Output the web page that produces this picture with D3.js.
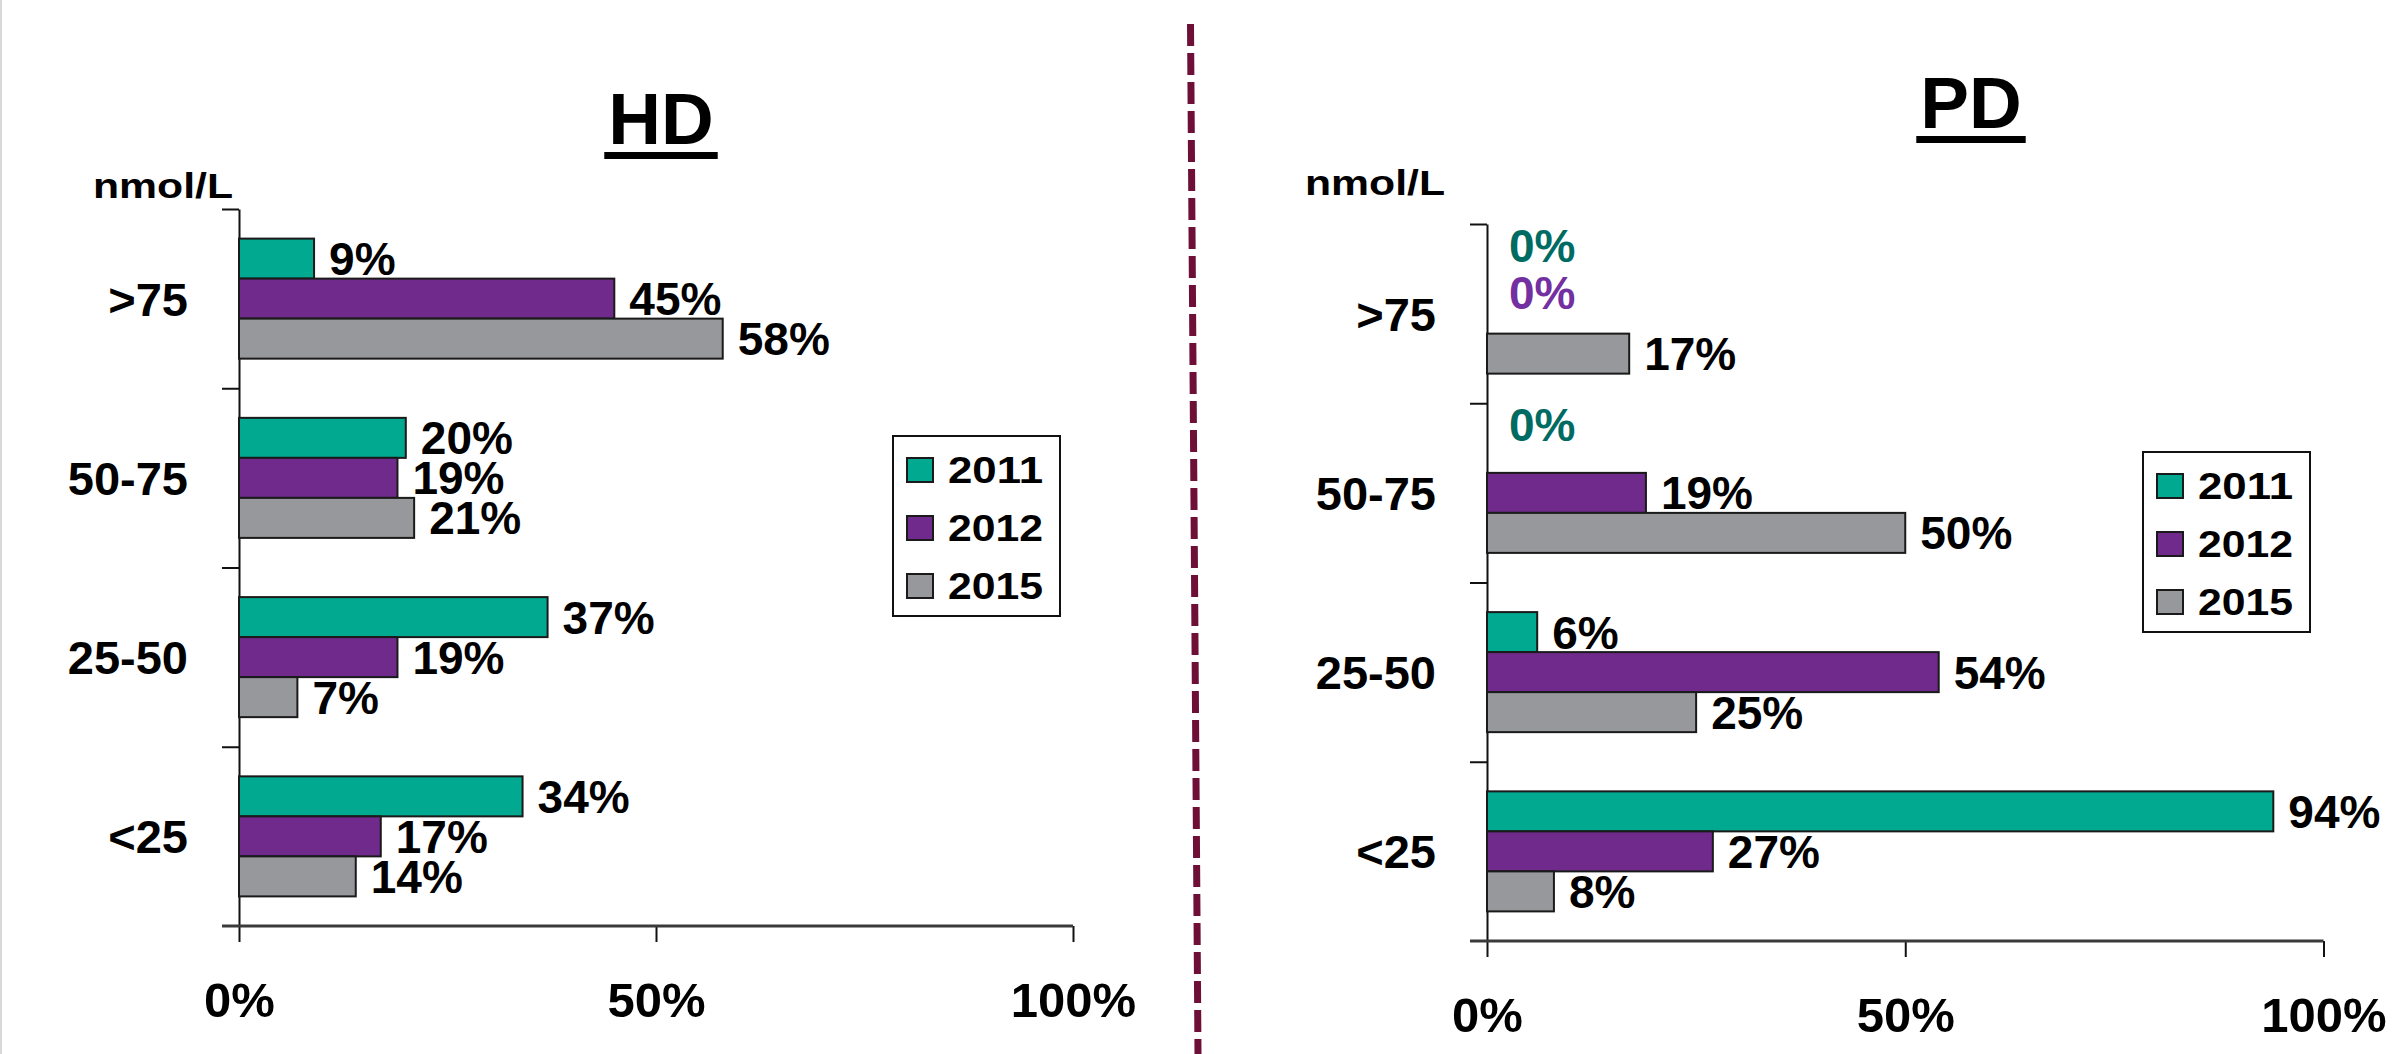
<!DOCTYPE html>
<html>
<head>
<meta charset="utf-8">
<script src="https://cdn.jsdelivr.net/npm/d3@7"></script>
<style>
  html, body { margin: 0; padding: 0; background: #fff; }
  svg text { font-family: "Liberation Sans", Arial, sans-serif; font-weight: bold; }
</style>
</head>
<body>
<div id="chart"></div>
<script>
// categories (nmol/L bands) and the years shown in the legend
var categories = ['>75', '50-75', '25-50', '<25'];
var years = ['2011', '2012', '2015'];
var xTicks = [0, 50, 100];

// HD values, one array per year, in the order of categories
var hd2011 = [9, 20, 37, 34];
var hd2012 = [45, 19, 19, 17];
var hd2015 = [58, 21, 7, 14];

// PD values
var pd2011 = [0, 0, 6, 94];
var pd2012 = [0, 19, 54, 27];
var pd2015 = [17, 50, 25, 8];

var barColors = ['#00A98F', '#702A8C', '#97989C'];
// zero values are only written as text, in a darker tone of the series colour
var zeroColors = ['#006B63', '#7330A0', '#000'];
var zeroShift = [-28, -21, -25];

var svg = d3.select('#chart').append('svg')
    .attr('width', 2392)
    .attr('height', 1054);

// faint frame line at the left edge
svg.append('line')
    .attr('x1', 1).attr('x2', 1).attr('y1', 0).attr('y2', 1054)
    .attr('stroke', '#d8d8d8').attr('stroke-width', 2);

// dashed divider between the two panels
svg.append('line')
    .attr('x1', 1190.5).attr('y1', 24)
    .attr('x2', 1198).attr('y2', 1054)
    .attr('stroke', '#6E0F37')
    .attr('stroke-width', 7)
    .attr('stroke-dasharray', '22 7');

function drawPanel(cfg) {
    var g = svg.append('g');

    var x = d3.scaleLinear().domain([0, 100]).range([cfg.left, cfg.right]);
    var y0 = d3.scaleBand().domain(categories).range([cfg.top, cfg.bottom]);
    var y1 = d3.scaleBand().domain(years).range([0, y0.bandwidth()]).paddingOuter(0.74);
    // linear twin of y0, only used for the ticks between the categories
    var yTick = d3.scaleLinear().domain([0, categories.length]).range([cfg.top, cfg.bottom]);

    // title with a drawn underline
    var title = g.append('text')
        .attr('x', cfg.titleX)
        .attr('y', cfg.titleY)
        .attr('text-anchor', 'middle')
        .style('font-size', '73px')
        .text(cfg.title);
    var tw = title.node().getComputedTextLength();
    g.append('rect')
        .attr('x', cfg.titleX - tw / 2 - 4)
        .attr('y', cfg.titleY + 8)
        .attr('width', tw + 8)
        .attr('height', 7)
        .attr('fill', '#000');

    // unit label
    g.append('text')
        .attr('x', cfg.unitX)
        .attr('y', cfg.unitY)
        .attr('textLength', 140)
        .attr('lengthAdjust', 'spacingAndGlyphs')
        .style('font-size', '35px')
        .text('nmol/L');

    // y axis: line and ticks between categories
    var yAxis = g.append('g')
        .attr('transform', 'translate(' + cfg.left + ',0)')
        .call(d3.axisLeft(yTick)
            .tickValues(d3.range(0, categories.length))
            .tickSize(17)
            .tickSizeOuter(0)
            .tickFormat(''));
    yAxis.select('.domain').attr('stroke', '#111').attr('stroke-width', 2);
    yAxis.selectAll('.tick line').attr('stroke', '#111').attr('stroke-width', 2);

    // x axis
    var xAxis = g.append('g')
        .attr('transform', 'translate(0,' + cfg.bottom + ')')
        .call(d3.axisBottom(x)
            .tickValues(xTicks)
            .tickSize(16)
            .tickSizeOuter(0)
            .tickFormat(function(d) { return d + '%'; }));
    xAxis.select('.domain').remove();
    xAxis.selectAll('.tick line').attr('stroke', '#111').attr('stroke-width', 2);
    xAxis.selectAll('.tick text')
        .attr('y', 91)
        .attr('dy', null)
        .attr('fill', '#000')
        .style('font-size', '49px');
    xAxis.append('line')
        .attr('x1', x(0) - 17).attr('x2', x(100))
        .attr('y1', 0).attr('y2', 0)
        .attr('stroke', '#3a3a3a')
        .attr('stroke-width', 3);

    // category labels
    g.selectAll('.catLabel')
        .data(categories)
        .enter()
        .append('text')
        .attr('class', 'catLabel')
        .attr('x', cfg.left - 51)
        .attr('y', function(d) { return y0(d) + y0.bandwidth() / 2; })
        .attr('dy', '0.36em')
        .attr('text-anchor', 'end')
        .style('font-size', '47px')
        .text(function(d) { return d; });

    // one row per category/year pair
    var rows = [];
    categories.forEach(function(c, i) {
        years.forEach(function(yr, j) {
            rows.push({cat: c, year: yr, k: j, value: cfg.series[j][i]});
        });
    });

    g.selectAll('.bar')
        .data(rows.filter(function(d) { return d.value > 0; }))
        .enter()
        .append('rect')
        .attr('class', 'bar')
        .attr('x', x(0))
        .attr('y', function(d) { return y0(d.cat) + y1(d.year); })
        .attr('width', function(d) { return x(d.value) - x(0); })
        .attr('height', y1.bandwidth())
        .attr('fill', function(d) { return barColors[d.k]; })
        .attr('stroke', '#1a1a1a')
        .attr('stroke-width', 2);

    g.selectAll('.valLabel')
        .data(rows)
        .enter()
        .append('text')
        .attr('class', 'valLabel')
        .attr('x', function(d) { return x(d.value) + (d.value > 0 ? 15 : 22); })
        .attr('y', function(d) {
            var c = y0(d.cat) + y1(d.year) + y1.bandwidth() / 2;
            return d.value > 0 ? c : c + zeroShift[d.k];
        })
        .attr('dy', '0.36em')
        .attr('fill', function(d) { return d.value > 0 ? '#000' : zeroColors[d.k]; })
        .style('font-size', '46px')
        .text(function(d) { return d.value + '%'; });

    // legend
    var lg = g.append('g')
        .attr('transform', 'translate(' + cfg.legendX + ',' + cfg.legendY + ')');
    lg.append('rect')
        .attr('width', 167).attr('height', 180)
        .attr('fill', '#fff')
        .attr('stroke', '#111')
        .attr('stroke-width', 2);
    var item = lg.selectAll('.item')
        .data(years)
        .enter()
        .append('g')
        .attr('class', 'item')
        .attr('transform', function(d, i) { return 'translate(0,' + (34 + 58 * i) + ')'; });
    item.append('rect')
        .attr('x', 14).attr('y', -12)
        .attr('width', 26).attr('height', 24)
        .attr('fill', function(d, i) { return barColors[i]; })
        .attr('stroke', '#1a1a1a')
        .attr('stroke-width', 2);
    item.append('text')
        .attr('x', 55)
        .attr('y', 13)
        .attr('textLength', 95)
        .attr('lengthAdjust', 'spacingAndGlyphs')
        .style('font-size', '37px')
        .text(function(d) { return d; });
}

drawPanel({
    title: 'HD', titleX: 661, titleY: 144,
    unitX: 93, unitY: 198,
    left: 239, right: 1073, top: 209, bottom: 926,
    legendX: 893, legendY: 436,
    series: [hd2011, hd2012, hd2015]
});

drawPanel({
    title: 'PD', titleX: 1971, titleY: 128,
    unitX: 1305, unitY: 195,
    left: 1487, right: 2323.5, top: 224, bottom: 941,
    legendX: 2143, legendY: 452,
    series: [pd2011, pd2012, pd2015]
});
</script>
</body>
</html>
